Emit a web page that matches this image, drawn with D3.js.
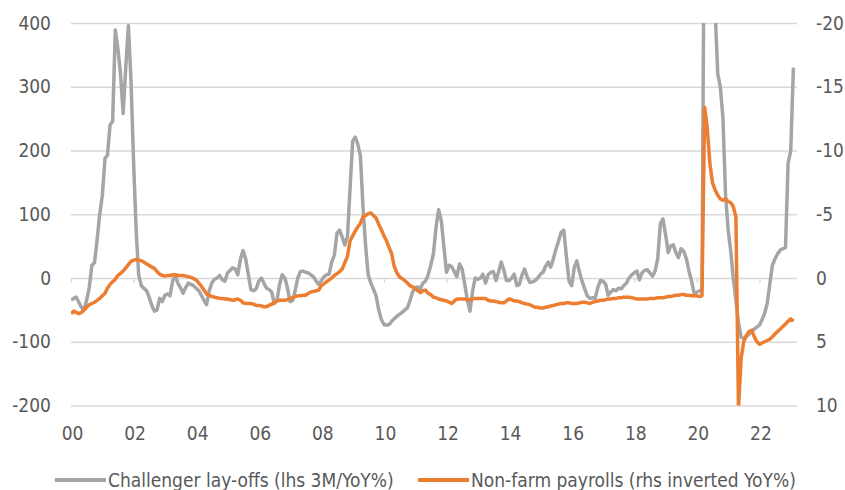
<!DOCTYPE html>
<html lang="en">
  <head>
    <meta charset="utf-8">
    <title>Challenger lay-offs vs payrolls</title>
    <script src="https://d3js.org/d3.v7.min.js"></script>
    <style>
      body { margin: 0; background: #fff; }
      text { font-family: "DejaVu Sans Condensed", "Liberation Sans", sans-serif; fill: #595959; }
    </style>
  </head>
  <body>
    <div id="chart"></div>
    <script type="text/javascript">
      // monthly observations, Jan 2000 .. Feb 2023
      var startMonth = new Date(2000, 0, 1);

      // Challenger lay-offs, 3M/YoY% (lhs)
      var layoffs = [
        -35, -32, -30, -38, -46, -50, -35, -15, 20, 24, 60, 100,          // 2000
        130, 188, 192, 240, 246, 389, 360, 320, 258, 330, 396, 310,      // 2001
        180, 70, 5, -12, -16, -20, -30, -43, -52, -50, -32, -37,         // 2002
        -27, -25, -28, -5, 5, -8, -15, -24, -15, -8, -10, -12,           // 2003
        -16, -20, -27, -35, -42, -20, -8, -2, 0, 4, -3, -5,              // 2004
        8, 12, 16, 14, 5, 30, 43, 30, 5, -18, -20, -17,                  // 2005
        -5, 0, -8, -16, -18, -22, -40, -35, -10, 5, 0, -15,              // 2006
        -37, -35, -20, 0, 10, 11, 9, 8, 5, 2, -5, -10,                   // 2007
        -4, 2, 5, 6, 25, 36, 70, 75, 64, 52, 65, 140,                    // 2008
        215, 221, 210, 192, 112, 50, 5, -8, -18, -28, -50, -65,          // 2009
        -73, -74, -73, -68, -64, -60, -57, -54, -50, -47, -35, -22,      // 2010
        -15, -14, -17, -8, -5, 5, 20, 38, 80, 107, 90, 50,               // 2011
        9, 20, 18, 10, 2, 22, 14, -10, -35, -52, -20, 0,                 // 2012
        -2, 0, 6, -8, 5, 9, 10, -4, 10, 25, 12, -4,                      // 2013
        -4, 0, 6, -12, -10, 5, 14, 1, -7, -6, -4, 0,                     // 2014
        6, 9, 18, 25, 17, 30, 45, 58, 72, 75, 33, -5,                    // 2015
        -12, 17, 27, 9, -5, -17, -28, -32, -31, -32, -15, -4,            // 2016
        -5, -10, -27, -22, -18, -20, -16, -17, -12, -8, 0, 5,            // 2017
        8, 11, -3, 8, 12, 13, 8, 3, 11, 30, 85, 93,                      // 2018
        68, 40, 50, 52, 40, 32, 46, 42, 30, 11, -5, -25,                 // 2019
        -22, -20, -18, 700, 1200, 1300, 800, 420, 320, 300, 250, 130,    // 2020
        75, 40, 0, -35, -70, -93, -95, -92, -88, -84, -80, -77,          // 2021
        -74, -65, -56, -40, -10, 20, 30, 38, 44, 46, 48, 180,            // 2022
        200, 330                                                         // 2023
      ];

      // Non-farm payrolls, YoY% (rhs, inverted)
      var payrolls = [
        2.8, 2.6, 2.7, 2.8, 2.7, 2.5, 2.3, 2.1, 2.0, 1.9, 1.75, 1.6,
        1.4, 1.2, 0.8, 0.5, 0.3, 0.1, -0.2, -0.35, -0.55, -0.8, -1.05, -1.3,
        -1.4, -1.45, -1.4, -1.35, -1.25, -1.1, -1.0, -0.85, -0.75, -0.5, -0.3, -0.2,
        -0.15, -0.2, -0.2, -0.25, -0.25, -0.2, -0.2, -0.2, -0.15, -0.1, -0.05, 0.05,
        0.15, 0.4, 0.65, 0.95, 1.25, 1.35, 1.45, 1.5, 1.55, 1.6, 1.6, 1.65,
        1.65, 1.7, 1.75, 1.7, 1.65, 1.75, 1.95, 2.0, 2.0, 2.0, 2.05, 2.15,
        2.15, 2.2, 2.25, 2.25, 2.15, 2.05, 1.95, 1.8, 1.75, 1.75, 1.75, 1.7,
        1.6, 1.55, 1.45, 1.4, 1.4, 1.35, 1.35, 1.2, 1.1, 1.05, 1.0, 0.95,
        0.6, 0.45, 0.3, 0.15, 0.0, -0.2, -0.35, -0.5, -0.7, -1.2, -1.7, -2.9,
        -3.3, -3.7, -4.0, -4.3, -4.8, -4.9, -5.05, -5.1, -4.9, -4.7, -4.2, -3.8,
        -3.3, -2.9, -2.4, -1.9, -0.9, -0.4, -0.1, 0.05, 0.2, 0.4, 0.6, 0.7,
        0.85, 1.0, 1.15, 1.0, 0.95, 1.2, 1.3, 1.5, 1.55, 1.65, 1.7, 1.75,
        1.8, 1.9, 2.0, 1.8, 1.65, 1.65, 1.65, 1.65, 1.7, 1.7, 1.65, 1.6,
        1.6, 1.6, 1.6, 1.6, 1.75, 1.8, 1.8, 1.85, 1.9, 1.95, 1.95, 1.8,
        1.65, 1.7, 1.8, 1.8, 1.85, 1.95, 2.0, 2.05, 2.1, 2.2, 2.3, 2.3,
        2.35, 2.35, 2.3, 2.25, 2.2, 2.15, 2.1, 2.05, 2.0, 2.0, 1.95, 1.95,
        2.0, 2.0, 2.0, 1.95, 1.9, 1.9, 1.95, 2.0, 1.9, 1.85, 1.8, 1.75,
        1.75, 1.7, 1.65, 1.65, 1.6, 1.6, 1.55, 1.55, 1.5, 1.5, 1.5, 1.55,
        1.6, 1.65, 1.65, 1.65, 1.65, 1.65, 1.6, 1.6, 1.6, 1.55, 1.55, 1.55,
        1.5, 1.45, 1.45, 1.4, 1.35, 1.35, 1.3, 1.3, 1.35, 1.35, 1.4, 1.4,
        1.4, 1.45, 1.4, -13.4, -11.8, -9.0, -7.5, -6.9, -6.5, -6.2, -6.1, -6.2,
        -6.0, -5.9, -5.6, -4.8, 10.2, 6.3, 5.0, 4.5, 4.2, 4.1, 4.6, 5.0,
        5.2, 5.1, 5.0, 4.9, 4.8, 4.6, 4.4, 4.2, 4.0, 3.8, 3.6, 3.4,
        3.2, 3.4
      ];

      var xTickYears = [2000, 2002, 2004, 2006, 2008, 2010, 2012, 2014, 2016, 2018, 2020, 2022];
      var leftTicks = [-200, -100, 0, 100, 200, 300, 400];
      var rightTicks = [-20, -15, -10, -5, 0, 5, 10];
      var legendLabels = ["Challenger lay-offs (lhs 3M/YoY%)", "Non-farm payrolls (rhs inverted YoY%)"];

      var grey = "#a5a5a5";
      var orange = "#ed7d31";
      var fontSize = "19px";

      var width = 845, height = 490;
      var plot = {left: 71, right: 797, top: 23, bottom: 405.5};

      var svg = d3.select("#chart")
        .append("svg")
        .attr("width", width)
        .attr("height", height);

      var dates = layoffs.map(function(d, i) { return d3.timeMonth.offset(startMonth, i); });

      var xScale = d3.scaleTime()
        .domain([new Date(2000, 0, 1), new Date(2023, 2, 15)])
        .range([plot.left, plot.right]);

      var yLeft = d3.scaleLinear()
        .domain([-200, 400])
        .range([plot.bottom, plot.top]);

      // right axis is inverted
      var yRight = d3.scaleLinear()
        .domain([10, -20])
        .range([plot.bottom, plot.top]);

      // plain hyphen for negatives, like the original
      var plain = function(d) { return String(d); };

      // gridlines
      svg.append("g")
        .attr("transform", "translate(" + plot.left + ",0)")
        .call(d3.axisLeft(yLeft).tickValues(leftTicks)
          .tickSize(-(plot.right - plot.left)).tickFormat(""))
        .call(function(g) {
          g.select(".domain").remove();
          g.selectAll("line").attr("stroke", "#d9d9d9").attr("stroke-width", 1.3);
        });

      // left labels
      svg.append("g")
        .attr("transform", "translate(51,0)")
        .call(d3.axisLeft(yLeft).tickValues(leftTicks).tickSize(0).tickPadding(0).tickFormat(plain))
        .call(function(g) {
          g.select(".domain").remove();
          g.selectAll("text").style("font-size", fontSize).attr("fill", "#595959");
        });

      // right labels
      svg.append("g")
        .attr("transform", "translate(816,0)")
        .call(d3.axisRight(yRight).tickValues(rightTicks).tickSize(0).tickPadding(0).tickFormat(plain))
        .call(function(g) {
          g.select(".domain").remove();
          g.selectAll("text").style("font-size", fontSize).attr("fill", "#595959");
        });

      // category axis sits on the zero line, small ticks below it
      svg.append("g")
        .attr("transform", "translate(0," + yLeft(0) + ")")
        .call(d3.axisBottom(xScale)
          .tickValues(xTickYears.map(function(y) { return new Date(y, 0, 1); }))
          .tickSize(5).tickFormat(""))
        .call(function(g) {
          g.select(".domain").remove();
          g.selectAll("line").attr("stroke", "#d9d9d9").attr("stroke-width", 1.3);
        });

      // year labels at the bottom
      svg.append("g")
        .selectAll("text")
        .data(xTickYears)
        .enter()
        .append("text")
        .attr("x", function(d) { return xScale(new Date(d, 0, 1)) + 1.5; })
        .attr("y", 433)
        .attr("dy", "0.35em")
        .attr("text-anchor", "middle")
        .style("font-size", fontSize)
        .text(function(d) { return d3.timeFormat("%y")(new Date(d, 0, 1)); });

      // clip lines to the plot area
      svg.append("clipPath")
        .attr("id", "plot-clip")
        .append("rect")
        .attr("x", plot.left)
        .attr("y", plot.top)
        .attr("width", plot.right - plot.left)
        .attr("height", plot.bottom - plot.top);

      var layoffLine = d3.line()
        .x(function(d, i) { return xScale(dates[i]); })
        .y(function(d) { return yLeft(d); });

      var payrollLine = d3.line()
        .x(function(d, i) { return xScale(dates[i]); })
        .y(function(d) { return yRight(d); });

      var lines = svg.append("g").attr("clip-path", "url(#plot-clip)");

      lines.append("path")
        .datum(layoffs)
        .attr("d", layoffLine)
        .attr("fill", "none")
        .attr("stroke", grey)
        .attr("stroke-width", 3.5)
        .attr("stroke-linejoin", "round");

      lines.append("path")
        .datum(payrolls)
        .attr("d", payrollLine)
        .attr("fill", "none")
        .attr("stroke", orange)
        .attr("stroke-width", 3.5)
        .attr("stroke-linejoin", "round");

      // legend
      var legendItems = [
        {label: legendLabels[0], color: grey, x: 55},
        {label: legendLabels[1], color: orange, x: 418}
      ];

      var legend = svg.selectAll(".legend")
        .data(legendItems)
        .enter()
        .append("g")
        .attr("class", "legend")
        .attr("transform", function(d) { return "translate(" + d.x + ",480)"; });

      legend.append("line")
        .attr("x1", 0)
        .attr("x2", 51)
        .attr("stroke", function(d) { return d.color; })
        .attr("stroke-width", 4);

      legend.append("text")
        .attr("x", 53)
        .attr("dy", "0.35em")
        .style("font-size", fontSize)
        .text(function(d) { return d.label; });
    </script>
  </body>
</html>
